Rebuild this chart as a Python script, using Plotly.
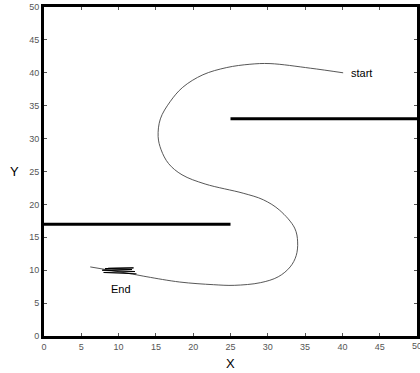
import plotly.graph_objects as go

# Trajectory
path_x = [40.1, 35.7, 30.3, 27.6, 24.5, 21.3, 18.6, 16.9, 15.6, 15.3, 15.7, 16.7, 18.5, 21.6, 26.7, 29.4, 31.6, 33.6, 34.0, 33.8, 33.0, 31.4, 29.0, 25.5, 22.7, 18.2, 13.8, 11.9, 6.2]
path_y = [40.0, 40.7, 41.4, 41.3, 40.8, 39.7, 37.8, 35.6, 33.0, 30.3, 28.3, 26.2, 24.5, 23.1, 21.7, 20.7, 19.1, 16.4, 14.3, 12.2, 10.5, 9.0, 8.1, 7.7, 7.8, 8.2, 9.0, 9.4, 10.5]

# Oscillation near the end
scrib_x = [12.4, 8.0, 12.2, 7.8, 11.8, 8.2, 12.0, 8.6]
scrib_y = [9.45, 9.65, 9.8, 10.0, 10.1, 10.25, 10.35, 10.3]

# Walls
wall1_x = [25, 50]
wall1_y = [33, 33]
wall2_x = [0, 25]
wall2_y = [17, 17]

ticks = list(range(0, 51, 5))
tick_labels = [str(t) for t in ticks]

FONT = "Liberation Sans, Arial"

fig = go.Figure()
fig.add_trace(go.Scatter(x=path_x, y=path_y, mode="lines",
                         line=dict(color="#444444", width=0.9, shape="spline", smoothing=1.0),
                         hoverinfo="skip"))
fig.add_trace(go.Scatter(x=scrib_x, y=scrib_y, mode="lines",
                         line=dict(color="black", width=1.0), hoverinfo="skip"))
fig.add_trace(go.Scatter(x=wall1_x, y=wall1_y, mode="lines",
                         line=dict(color="black", width=3), hoverinfo="skip"))
fig.add_trace(go.Scatter(x=wall2_x, y=wall2_y, mode="lines",
                         line=dict(color="black", width=3), hoverinfo="skip"))

fig.add_annotation(x=42.5, y=40.0, text="start", showarrow=False,
                   font=dict(family=FONT, size=11, color="black"))
fig.add_annotation(x=10.3, y=7.2, text="End", showarrow=False,
                   font=dict(family=FONT, size=11, color="black"))
fig.add_annotation(x=0.5, xref="paper", y=0, yref="paper", yshift=-27, yanchor="middle",
                   xanchor="center", text="X",
                   showarrow=False, font=dict(family=FONT, size=13, color="black"))
fig.add_annotation(x=0, xref="paper", xshift=-30, xanchor="center", y=0.5, yref="paper",
                   yanchor="middle", text="Y",
                   showarrow=False, font=dict(family=FONT, size=13, color="black"))
# last x tick label (partly beyond the right edge, as in the original)
fig.add_annotation(x=50, y=0, yref="paper", yshift=-10, yanchor="middle", xanchor="center",
                   text=tick_labels[-1], showarrow=False,
                   font=dict(family=FONT, size=9, color="#555555"))

axis_common = dict(range=[0, 50], tickvals=ticks, ticktext=tick_labels,
                   showgrid=False, zeroline=False, showline=True, linecolor="black",
                   linewidth=3, mirror="ticks", ticks="inside", ticklen=3,
                   tickcolor="#555555", automargin=False,
                   tickfont=dict(family=FONT, size=9, color="#555555"))

fig.update_layout(
    width=420, height=373,
    margin=dict(l=44, r=3, t=7, b=37),
    paper_bgcolor="white", plot_bgcolor="white",
    showlegend=False,
    xaxis=dict(**axis_common),
    yaxis=dict(**axis_common),
)
fig.write_html("out.html", config={"displayModeBar": False},
               post_script="document.body.style.margin='0';document.body.style.overflow='hidden';")
